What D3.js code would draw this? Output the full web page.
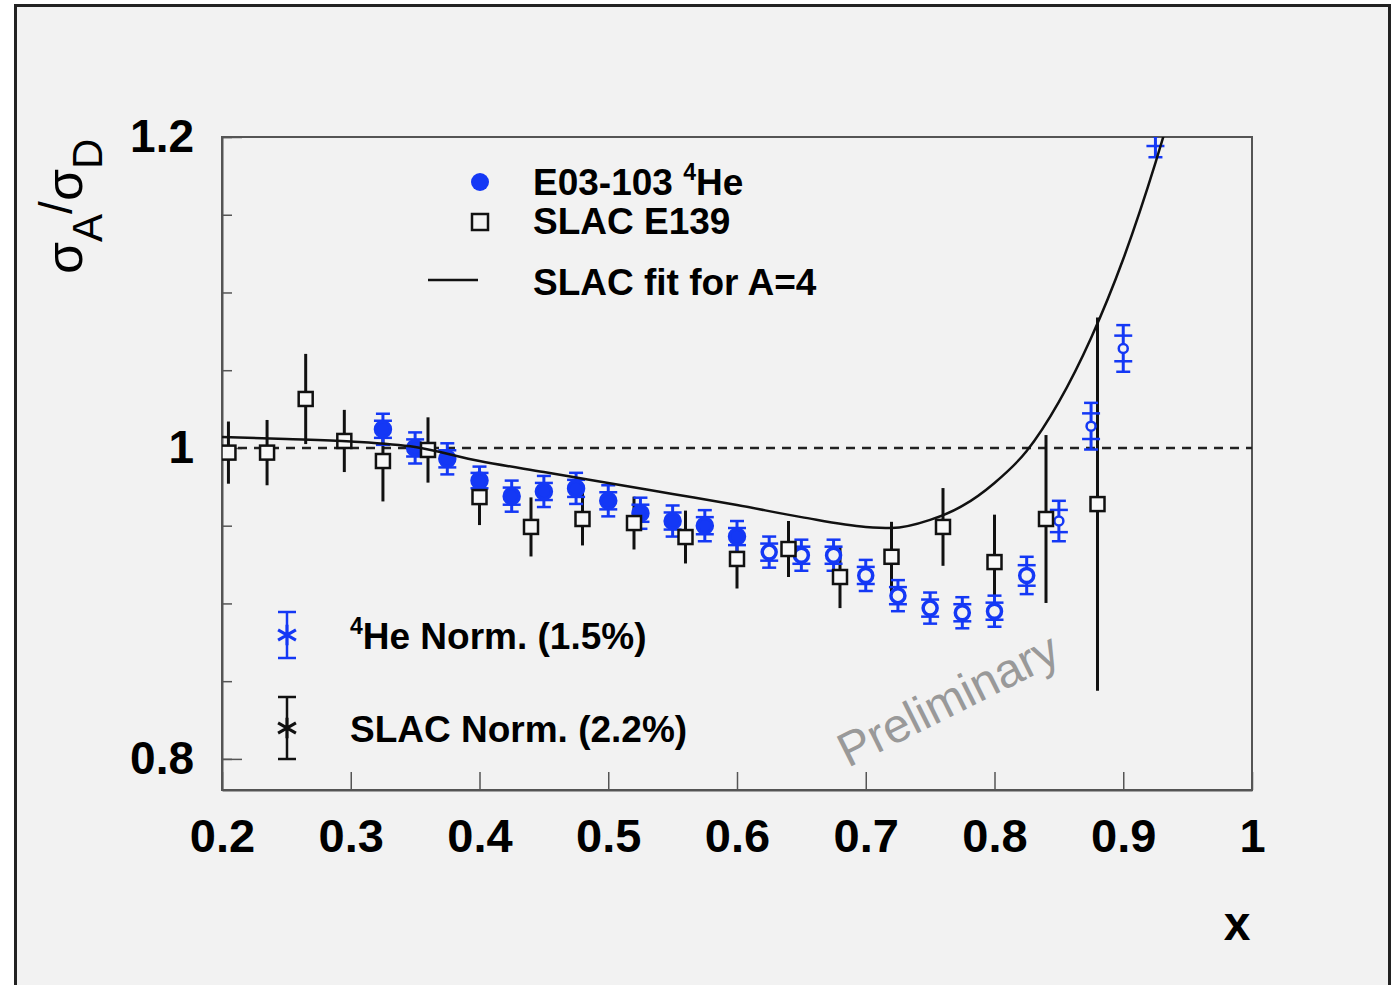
<!DOCTYPE html>
<html>
<head>
<meta charset="utf-8">
<script src="https://cdn.jsdelivr.net/npm/d3@7"></script>
<style>
  body { margin: 0; background: #fff; }
  text { font-family: "Liberation Sans", Arial, sans-serif; }
</style>
</head>
<body>
<div id="chart"></div>
<script>
// E03-103 4He points
const heX = [0.325, 0.35, 0.375, 0.40, 0.425, 0.45, 0.475, 0.50, 0.525, 0.55, 0.575, 0.60,
             0.625, 0.65, 0.675, 0.70, 0.725, 0.75, 0.775, 0.80, 0.825, 0.85, 0.875, 0.90, 0.925];
const heY = [1.012, 1.000, 0.993, 0.979, 0.969, 0.972, 0.974, 0.966, 0.958, 0.953, 0.950, 0.943,
             0.933, 0.931, 0.931, 0.918, 0.905, 0.897, 0.894, 0.895, 0.918, 0.953, 1.014, 1.064, 1.203];
const heErr = [0.010, 0.010, 0.010, 0.009, 0.010, 0.010, 0.010, 0.010, 0.010, 0.010, 0.010, 0.010,
               0.010, 0.010, 0.010, 0.010, 0.010, 0.010, 0.010, 0.010, 0.012, 0.013, 0.015, 0.015, 0.016];

// SLAC E139 points
const slacX = [0.205, 0.235, 0.265, 0.295, 0.325, 0.36, 0.40, 0.44, 0.48, 0.52, 0.56, 0.60,
               0.64, 0.68, 0.72, 0.76, 0.80, 0.84, 0.88];
const slacY = [0.997, 0.997, 1.0315, 1.0045, 0.9916, 0.9987, 0.9684, 0.9492, 0.9543, 0.9517, 0.9427, 0.9286,
               0.935, 0.917, 0.930, 0.9492, 0.9266, 0.9543, 0.9639];
const slacErr = [0.020, 0.021, 0.029, 0.020, 0.026, 0.021, 0.018, 0.019, 0.017, 0.017, 0.017, 0.019,
                 0.018, 0.020, 0.0225, 0.025, 0.0305, 0.054, 0.120];

// SLAC fit for A=4
const fitX = [0.2, 0.25, 0.3, 0.35, 0.4, 0.45, 0.5, 0.55, 0.6, 0.65, 0.7, 0.72, 0.75, 0.775,
              0.8, 0.825, 0.85, 0.875, 0.9, 0.925, 0.935];
const fitY = [1.007, 1.0058, 1.0042, 1.0006, 0.9916, 0.9845, 0.9775, 0.9704, 0.9633, 0.9555, 0.9492, 0.9485,
              0.9537, 0.9627, 0.9775, 0.9980, 1.0296, 1.0707, 1.1215, 1.1833, 1.2109];

const xTicks = [0.2, 0.3, 0.4, 0.5, 0.6, 0.7, 0.8, 0.9, 1];
const yTicks = [0.8, 1.0, 1.2];
const yMinor = [0.8, 0.85, 0.9, 0.95, 1.0, 1.05, 1.1, 1.15, 1.2];

const width = 1393, height = 985;
const marginLeft = 222, marginRight = 141, marginTop = 137, marginBottom = 195;
const blue = "#1438f5";
const axisColor = "#555";

const svg = d3.select("#chart").append("svg")
  .attr("width", width)
  .attr("height", height)
  .attr("viewBox", [0, 0, width, height]);

// fondo con marco
svg.append("rect")
  .attr("x", 15.5).attr("y", 5.5)
  .attr("width", 1374).attr("height", 1000)
  .attr("fill", "#f2f2f2")
  .attr("stroke", "#222")
  .attr("stroke-width", 3);

const x = d3.scaleLinear().domain([0.2, 1]).range([marginLeft, width - marginRight]);
const y = d3.scaleLinear().domain([0.78, 1.2]).range([height - marginBottom, marginTop]);

svg.append("clipPath").attr("id", "plot")
  .append("rect")
  .attr("x", x(0.2)).attr("y", y(1.2))
  .attr("width", x(1) - x(0.2)).attr("height", y(0.78) - y(1.2));

// caja del gráfico
svg.append("rect")
  .attr("x", x(0.2)).attr("y", y(1.2))
  .attr("width", x(1) - x(0.2)).attr("height", y(0.78) - y(1.2))
  .attr("fill", "none")
  .attr("stroke", axisColor)
  .attr("stroke-width", 2);

// eje X
svg.append("g")
  .attr("transform", `translate(0,${y(0.78)})`)
  .call(d3.axisBottom(x).tickValues(xTicks).tickFormat(d3.format("")).tickSizeInner(-18).tickSizeOuter(0).tickPadding(29))
  .call(g => g.select(".domain").attr("stroke", axisColor).attr("stroke-width", 2))
  .call(g => g.selectAll(".tick line").attr("stroke", axisColor).attr("stroke-width", 1.5))
  .call(g => g.selectAll(".tick text")
    .attr("fill", "#000").attr("font-size", 47).attr("font-weight", "bold"));

// eje Y: menores y mayores
svg.append("g")
  .attr("transform", `translate(${x(0.2)},0)`)
  .call(d3.axisLeft(y).tickValues(yMinor).tickFormat("").tickSizeInner(-10).tickSizeOuter(0))
  .call(g => g.select(".domain").attr("stroke", axisColor).attr("stroke-width", 2))
  .call(g => g.selectAll(".tick line").attr("stroke", axisColor).attr("stroke-width", 1.5));

svg.append("g")
  .attr("transform", `translate(${x(0.2)},0)`)
  .call(d3.axisLeft(y).tickValues(yTicks).tickFormat(d3.format("")).tickSizeInner(-20).tickSizeOuter(0).tickPadding(28))
  .call(g => g.select(".domain").remove())
  .call(g => g.selectAll(".tick line").attr("stroke", axisColor).attr("stroke-width", 1.5))
  .call(g => g.selectAll(".tick text")
    .attr("fill", "#000").attr("font-size", 46).attr("font-weight", "bold"));

// títulos de ejes
svg.append("text")
  .attr("x", 1237).attr("y", 940)
  .attr("text-anchor", "middle")
  .attr("font-size", 48).attr("font-weight", "bold")
  .text("x");

const yt = svg.append("text")
  .attr("transform", "translate(82,274) rotate(-90)")
  .attr("font-size", 52);
yt.append("tspan").text("σ");
yt.append("tspan").attr("dy", 20).attr("font-size", 42).text("A");
yt.append("tspan").attr("dy", -30).attr("font-size", 46).text("/");
yt.append("tspan").attr("dy", 10).text("σ");
yt.append("tspan").attr("dy", 20).attr("font-size", 42).text("D");

// línea discontinua en 1
svg.append("line")
  .attr("x1", x(0.2)).attr("x2", x(1))
  .attr("y1", y(1)).attr("y2", y(1))
  .attr("stroke", "#222")
  .attr("stroke-width", 2.5)
  .attr("stroke-dasharray", "9,7");

const plot = svg.append("g").attr("clip-path", "url(#plot)");

// SLAC E139
const slac = slacX.map((d, i) => ({x: d, y: slacY[i], e: slacErr[i]}));
plot.append("g").selectAll("line")
  .data(slac).join("line")
  .attr("x1", d => x(d.x)).attr("x2", d => x(d.x))
  .attr("y1", d => y(d.y - d.e)).attr("y2", d => y(d.y + d.e))
  .attr("stroke", "#111").attr("stroke-width", 3);

// E03-103
const he = heX.map((d, i) => ({x: d, y: heY[i], e: heErr[i]}));
const heG = plot.append("g").attr("stroke", blue).attr("fill", blue);
heG.selectAll(".bar")
  .data(he).join("line")
  .attr("x1", d => x(d.x)).attr("x2", d => x(d.x))
  .attr("y1", d => y(d.y - d.e)).attr("y2", d => y(d.y + d.e))
  .attr("stroke-width", 3);
heG.selectAll(".cap")
  .data(he.flatMap(d => [
    {x: d.x, v: d.y - d.e, w: 7}, {x: d.x, v: d.y + d.e, w: 7},
    {x: d.x, v: d.y - d.e * 0.55, w: 9}, {x: d.x, v: d.y + d.e * 0.55, w: 9}
  ])).join("line")
  .attr("x1", d => x(d.x) - d.w).attr("x2", d => x(d.x) + d.w)
  .attr("y1", d => y(d.v)).attr("y2", d => y(d.v))
  .attr("stroke-width", 2.5);
heG.selectAll("circle")
  .data(he).join("circle")
  .attr("cx", d => x(d.x)).attr("cy", d => y(d.y))
  .attr("r", d => d.x <= 0.6 ? 7.5 : (d.x > 0.84 ? 4.5 : 7))
  .attr("fill", d => d.x <= 0.6 ? blue : "#f2f2f2")
  .attr("stroke-width", d => d.x > 0.84 ? 2.5 : 3.5);

plot.append("g").selectAll("rect")
  .data(slac).join("rect")
  .attr("x", d => x(d.x) - 7).attr("y", d => y(d.y) - 7)
  .attr("width", 14).attr("height", 14)
  .attr("fill", "#f8f8f8")
  .attr("stroke", "#111").attr("stroke-width", 2.5);

// curva del ajuste SLAC
const fit = fitX.map((d, i) => [d, fitY[i]]);
plot.append("path")
  .attr("d", d3.line().x(d => x(d[0])).y(d => y(d[1])).curve(d3.curveMonotoneX)(fit))
  .attr("fill", "none")
  .attr("stroke", "#111")
  .attr("stroke-width", 2.5);

// leyenda superior
const leg = svg.append("g").attr("font-size", 37).attr("font-weight", "bold");
leg.append("circle").attr("cx", 480).attr("cy", 182).attr("r", 9).attr("fill", blue);
const t1 = leg.append("text").attr("x", 533).attr("y", 195);
t1.append("tspan").text("E03-103 ");
t1.append("tspan").attr("dy", -15).attr("font-size", 23).text("4");
t1.append("tspan").attr("dy", 15).text("He");
leg.append("rect").attr("x", 472).attr("y", 214).attr("width", 16).attr("height", 16)
  .attr("fill", "none").attr("stroke", "#111").attr("stroke-width", 2.5);
leg.append("text").attr("x", 533).attr("y", 234).text("SLAC E139");
leg.append("line").attr("x1", 428).attr("x2", 478).attr("y1", 280).attr("y2", 280)
  .attr("stroke", "#111").attr("stroke-width", 2.5);
leg.append("text").attr("x", 533).attr("y", 295).text("SLAC fit for A=4");

// leyenda de normalización
const norm = [
  {cy: 635, half: 23, color: blue, label: "He Norm. (1.5%)", sup: "4"},
  {cy: 728, half: 31, color: "#111", label: "SLAC Norm. (2.2%)", sup: null}
];
norm.forEach(n => {
  const g = svg.append("g").attr("stroke", n.color);
  g.append("line").attr("x1", 287).attr("x2", 287).attr("y1", n.cy - n.half).attr("y2", n.cy + n.half).attr("stroke-width", 2.5);
  g.append("line").attr("x1", 278).attr("x2", 296).attr("y1", n.cy - n.half).attr("y2", n.cy - n.half).attr("stroke-width", 2.5);
  g.append("line").attr("x1", 278).attr("x2", 296).attr("y1", n.cy + n.half).attr("y2", n.cy + n.half).attr("stroke-width", 2.5);
  g.append("path")
    .attr("transform", `translate(287,${n.cy})`)
    .attr("d", d3.symbol(d3.symbolAsterisk, 300)())
    .attr("fill", "none").attr("stroke-width", 3);
  const t = svg.append("text").attr("x", 350).attr("y", n.cy + 14)
    .attr("font-size", 37).attr("font-weight", "bold");
  if (n.sup) {
    t.append("tspan").attr("dy", -15).attr("font-size", 23).text(n.sup);
    t.append("tspan").attr("dy", 15).text(n.label);
  } else {
    t.text(n.label);
  }
});

// marca de agua
svg.append("text")
  .attr("transform", "translate(848,768) rotate(-26.5)")
  .attr("font-size", 48)
  .attr("fill", "#999")
  .text("Preliminary");
</script>
</body>
</html>
